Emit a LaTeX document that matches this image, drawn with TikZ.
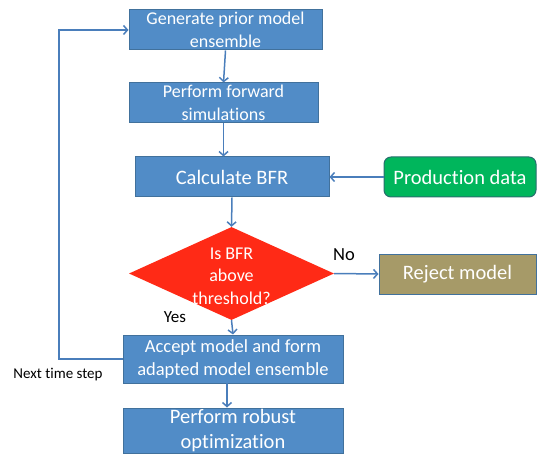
\documentclass[tikz,border=0pt]{standalone}
\usepackage{fontspec}
\setmainfont{Carlito}[RawFeature={-liga}]
\usetikzlibrary{shapes.geometric,arrows.meta}
\definecolor{boxblue}{RGB}{81,140,199}
\definecolor{boxedge}{RGB}{65,113,156}
\definecolor{arrowblue}{RGB}{74,126,187}
\definecolor{prodgreen}{RGB}{0,182,92}
\definecolor{prodedge}{RGB}{40,110,110}
\definecolor{decred}{RGB}{255,42,22}
\definecolor{rejolive}{RGB}{166,154,104}
\tikzset{
  every node/.style={font=\fontsize{18}{23}\selectfont},
  bluebox/.style={draw=boxedge, line width=1pt, fill=boxblue, text=white, align=center, inner sep=0pt},
  flow/.style={draw=arrowblue, line width=1.5pt, -{Straight Barb[length=4pt,width=9pt]}},
}
\begin{document}
\begin{tikzpicture}[x=1pt,y=-1pt]
\useasboundingbox (0,0) rectangle (537,454);
\node[bluebox, minimum width=193pt, minimum height=40pt] (gen) at (225.5,30) {Generate prior model\\ensemble};
\node[bluebox, minimum width=189pt, minimum height=40pt] (fwd) at (223.5,103) {Perform forward\\simulations};
\node[bluebox, minimum width=194pt, minimum height=40pt, font=\fontsize{20.5}{24}\selectfont] (bfr) at (232,177) {Calculate BFR};
\node[draw=prodedge, line width=1pt, fill=prodgreen, rounded corners=7pt, text=white, minimum width=152pt, minimum height=40pt, inner sep=0pt, font=\fontsize{20.5}{24}\selectfont] (prod) at (460,177) {Production data};
\node[diamond, fill=decred, minimum width=205pt, minimum height=93pt, inner sep=0pt] (dec) at (231.5,273.5) {};
\node[text=white, align=center, font=\fontsize{18}{22.5}\selectfont] (dectext) at (231.5,276) {Is BFR\\above\\threshold?};
\node[draw=boxedge, line width=1pt, fill=rejolive, text=white, minimum width=157pt, minimum height=40pt, inner sep=0pt, font=\fontsize{20.5}{24}\selectfont] (rej) at (457.5,274) {Reject model};
\node[bluebox, minimum width=220pt, minimum height=48pt, font=\fontsize{18.5}{23}\selectfont] (acc) at (233,359) {Accept model and form\\adapted model ensemble};
\node[bluebox, minimum width=220pt, minimum height=45pt, font=\fontsize{20.5}{25}\selectfont] (rob) at (233,430.5) {Perform robust\\optimization};
\node[font=\fontsize{18.5}{22}\selectfont] (no) at (344,255) {No};
\node[font=\fontsize{17}{22}\selectfont] (yes) at (175,317) {Yes};
\node[font=\fontsize{15}{18}\selectfont] (next) at (58,375) {Next time step};
\coordinate (accbot) at (227,383);
\draw[flow] (gen.south) -- (fwd.north);
\draw[flow] (fwd.south) -- (fwd.south |- bfr.north);
\draw[flow] (bfr.south) -- (dec.north);
\draw[flow] (prod.west) -- (bfr.east);
\draw[flow] (dec.east) -- (rej.west);
\draw[flow] (dec.south) -- (acc.north);
\draw[flow] (accbot) -- (accbot |- rob.north);
\draw[flow] (acc.west) -- (59,359) -- (59,30) -- (gen.west);
\end{tikzpicture}
\end{document}
